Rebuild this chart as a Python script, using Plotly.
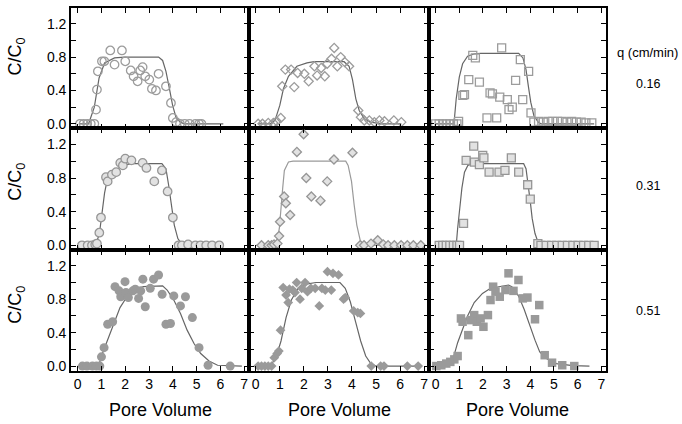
import plotly.graph_objects as go
from plotly.subplots import make_subplots

# ---------------- data ----------------
# Row 1 (q = 0.16 cm/min) - open markers
p11_x = [0.1, 0.25, 0.4, 0.55, 0.7, 0.77, 0.81, 0.85, 1.02, 1.12, 1.37, 1.55, 1.86, 2.0, 2.23, 2.35, 2.52, 2.63, 2.73,
         2.84, 3.01, 3.12, 3.29, 3.4, 3.71, 3.92, 4.0, 4.14, 4.3, 4.5, 4.7, 4.95, 5.1, 5.2]
p11_y = [0, 0, 0, 0, 0, 0.17, 0.41, 0.63, 0.75, 0.75, 0.88, 0.71, 0.88, 0.75, 0.64, 0.57, 0.51, 0.64, 0.68,
         0.57, 0.53, 0.42, 0.40, 0.60, 0.45, 0.25, 0.07, 0.02, 0, 0, 0, 0, 0, 0]
m11_x = [0.05, 0.46, 0.7, 0.9, 1.13, 1.55, 1.97, 3.4, 3.57, 3.71, 3.85, 3.99, 4.13, 4.31, 4.48, 6.12]
m11_y = [0, 0, 0.2, 0.55, 0.73, 0.79, 0.8, 0.8, 0.76, 0.63, 0.43, 0.22, 0.08, 0.02, 0, 0]

p12_x = [0.1, 0.28, 0.52, 0.73, 0.87, 1.04, 1.1, 1.23, 1.47, 1.6, 1.74, 2.02, 2.2, 2.44, 2.55, 2.72, 2.87, 2.97,
         3.15, 3.26, 3.39, 3.53, 3.7, 3.88, 4.26, 4.37, 4.51, 4.72, 4.93, 5.14, 5.35, 5.74, 6.05]
p12_y = [0, 0, 0.01, 0.01, 0.03, 0.07, 0.45, 0.65, 0.65, 0.44, 0.61, 0.60, 0.51, 0.69, 0.58, 0.67, 0.57, 0.72,
         0.78, 0.91, 0.69, 0.80, 0.74, 0.69, 0.16, 0.08, 0.04, 0.04, 0.02, 0.04, 0.03, 0.04, 0.02]
m12_x = [0.1, 0.6, 0.8, 1.0, 1.15, 1.36, 1.71, 2.13, 2.43, 3.67, 3.88, 4.02, 4.16, 4.3, 4.51, 4.79, 5.21, 6.05]
m12_y = [0, 0, 0.04, 0.22, 0.42, 0.57, 0.69, 0.73, 0.745, 0.745, 0.69, 0.53, 0.3, 0.16, 0.06, 0.02, 0, 0]

p13_x = [0.0, 0.15, 0.3, 0.45, 0.6, 0.75, 0.9, 0.97, 1.15, 1.22, 1.4, 1.57, 1.68, 1.85, 2.17, 2.3, 2.4, 2.58, 2.71,
         2.79, 3.03, 3.1, 3.24, 3.38, 3.58, 3.68, 3.93, 4.03, 4.15, 4.35, 4.55, 4.75, 4.95, 5.15, 5.35, 5.55,
         5.75, 5.95, 6.15, 6.35, 6.6]
p13_y = [0, 0, 0, 0, 0, 0, 0, 0.03, 0.34, 0.35, 0.53, 0.82, 0.79, 0.50, 0.07, 0.37, 0.36, 0.07, 0.32,
         0.91, 0.29, 0.17, 0.20, 0.52, 0.77, 0.29, 0.63, 0.13, 0.02, 0.03, 0.02, 0.03, 0.03, 0.03, 0.03, 0.02,
         0.03, 0.02, 0.02, 0.01, 0.01]
m13_x = [0.0, 0.75, 0.8, 0.87, 1.0, 1.14, 1.35, 1.65, 1.9, 3.51, 3.69, 3.82, 3.92, 4.02, 4.15, 4.33, 4.45, 6.7]
m13_y = [0, 0, 0.08, 0.3, 0.56, 0.72, 0.81, 0.84, 0.845, 0.845, 0.79, 0.65, 0.45, 0.26, 0.1, 0.02, 0, 0]

# Row 2 (q = 0.31 cm/min) - light filled markers
p21_x = [0.18, 0.42, 0.6, 0.74, 0.81, 0.91, 0.98, 1.19, 1.26, 1.44, 1.62, 1.79, 1.9, 2.0, 2.26, 2.73, 2.89, 3.22,
         3.54, 3.78, 4.0, 4.24, 4.38, 4.64, 4.95, 5.16, 5.4, 5.65, 5.95]
p21_y = [0, 0, 0, 0.01, 0.02, 0.15, 0.33, 0.81, 0.76, 0.84, 0.87, 0.98, 0.95, 1.03, 1.01, 0.98, 0.92, 0.76,
         0.89, 0.64, 0.33, 0, 0, 0.01, 0, 0, 0, 0, 0]
m21_x = [0.0, 0.74, 0.91, 1.02, 1.13, 1.23, 1.51, 1.86, 2.28, 3.54, 3.71, 3.82, 3.93, 4.06, 4.21, 4.38, 4.5, 6.1]
m21_y = [0, 0, 0.13, 0.36, 0.62, 0.76, 0.86, 0.95, 0.97, 0.97, 0.91, 0.72, 0.48, 0.24, 0.08, 0.01, 0, 0]

p22_x = [0.24, 0.52, 0.66, 0.76, 0.9, 0.97, 1.01, 1.18, 1.25, 1.43, 1.71, 1.99, 2.1, 2.31, 2.69, 2.97, 3.25, 4.02,
         4.34, 4.5, 4.79, 5.07, 5.3, 5.5, 5.76, 6.04, 6.3, 6.55, 6.86]
p22_y = [0, 0, 0, 0.01, 0.02, 0.11, 0.28, 0.58, 0.5, 0.36, 1.11, 1.32, 0.80, 0.58, 0.53, 0.76, 1.02, 1.10,
         0, 0, 0.02, 0.06, 0.01, 0, 0, 0, 0, 0, 0]
m22_x = [0.0, 0.85, 0.98, 1.05, 1.12, 1.19, 1.36, 1.55, 3.74, 3.84, 3.98, 4.09, 4.2, 4.34, 4.5, 6.9]
m22_y = [0, 0, 0.2, 0.4, 0.68, 0.89, 0.99, 1.0, 1.0, 0.95, 0.76, 0.48, 0.24, 0.06, 0, 0]

p23_x = [0.15, 0.3, 0.45, 0.6, 0.75, 0.9, 1.01, 1.18, 1.29, 1.61, 1.64, 1.85, 1.99, 2.04, 2.26, 2.68, 2.93, 3.2,
         3.51, 3.89, 4.0, 4.32, 4.45, 4.67, 4.9, 5.12, 5.35, 5.57, 5.8, 6.02, 6.25, 6.47, 6.7]
p23_y = [0, 0, 0, 0, 0, 0, 0, 0.26, 1.01, 1.18, 0.99, 0.96, 1.07, 1.04, 0.87, 0.87, 0.89, 1.04,
         0.87, 0.72, 0.55, 0.02, 0, 0, 0, 0, 0, 0, 0, 0, 0, 0, 0]
m23_x = [0.0, 0.87, 0.93, 1.01, 1.11, 1.22, 1.36, 1.57, 3.72, 3.82, 3.9, 4.0, 4.08, 4.2, 4.35, 4.45, 6.7]
m23_y = [0, 0, 0.2, 0.44, 0.68, 0.87, 0.95, 0.97, 0.97, 0.91, 0.75, 0.52, 0.32, 0.14, 0.02, 0, 0]

# Row 3 (q = 0.51 cm/min) - dark filled markers
p31_x = [0.2, 0.39, 0.62, 0.79, 0.93, 1.0, 1.11, 1.26, 1.47, 1.57, 1.74, 1.81, 1.99, 2.03, 2.13, 2.32, 2.42, 2.56,
         2.65, 2.74, 2.84, 3.05, 3.19, 3.4, 3.55, 3.71, 3.9, 4.04, 4.32, 4.53, 4.82, 5.1, 5.48, 6.41]
p31_y = [0, 0, 0, 0, 0, 0.11, 0.22, 0.5, 0.53, 0.95, 0.9, 0.83, 1.01, 0.88, 0.82, 0.9, 0.92, 0.81,
         0.9, 1.04, 0.71, 0.93, 1.04, 1.09, 0.86, 0.5, 0.51, 0.84, 0.72, 0.83, 0.58, 0.22, 0.01, 0]
m31_x = [0.0, 0.88, 1.0, 1.22, 1.5, 1.78, 2.05, 2.33, 2.76, 3.19, 3.57, 3.76, 4.04, 4.32, 4.6, 4.89, 5.17, 5.52,
         5.88, 6.9]
m31_y = [0, 0, 0.12, 0.28, 0.5, 0.7, 0.82, 0.9, 0.95, 0.96, 0.96, 0.91, 0.79, 0.63, 0.43, 0.27, 0.15, 0.06,
         0.01, 0]

p32_x = [0.1, 0.24, 0.38, 0.52, 0.66, 0.77, 0.89, 0.96, 1.03, 1.14, 1.26, 1.35, 1.4, 1.54, 1.63, 1.7, 1.84, 1.91,
         2.05, 2.15, 2.29, 2.47, 2.64, 2.75, 2.89, 2.98, 3.14, 3.21, 3.44, 3.65, 3.72, 4.07, 4.24, 4.35, 4.8, 5.19,
         5.33, 6.3, 6.75]
p32_y = [0, 0, 0, 0, 0, 0.1, 0.15, 0.18, 0.43, 0.94, 0.85, 0.76, 0.92, 0.91, 0.88, 1.0, 0.8, 0.93,
         1.0, 0.89, 0.93, 0.93, 0.72, 0.93, 0.91, 1.13, 0.91, 1.11, 1.09, 0.8, 0.82, 0.66, 0.64, 0.63, 0, 0,
         0, 0, 0]
m32_x = [0.0, 0.6, 0.84, 1.05, 1.26, 1.48, 1.76, 2.1, 2.5, 3.5, 3.72, 3.93, 4.15, 4.36, 4.57, 4.78, 5.0, 6.8]
m32_y = [0, 0, 0.1, 0.3, 0.58, 0.79, 0.93, 0.98, 1.0, 1.0, 0.93, 0.77, 0.53, 0.3, 0.12, 0.03, 0, 0]

p33_x = [0.03, 0.24, 0.45, 0.62, 0.79, 0.93, 1.07, 1.14, 1.38, 1.49, 1.63, 1.74, 1.9, 2.02, 2.21, 2.32, 2.43, 2.53,
         2.71, 2.95, 3.08, 3.29, 3.5, 3.68, 3.88, 4.2, 4.38, 4.61, 4.92, 5.35, 5.86]
p33_y = [0, 0.01, 0.03, 0.05, 0.08, 0.12, 0.57, 0.53, 0.37, 0.55, 0.61, 0.53, 0.57, 0.47, 0.61, 0.79, 0.95, 0.89,
         0.83, 0.91, 1.11, 0.9, 1.03, 0.81, 0.82, 0.56, 0.73, 0.13, 0.04, 0.01, 0]
m33_x = [0.0, 0.5, 0.73, 0.93, 1.14, 1.35, 1.63, 1.98, 2.32, 2.8, 3.08, 3.22, 3.5, 3.74, 3.96, 4.2, 4.4, 4.68,
         5.1, 5.8, 6.5]
m33_y = [0, 0.02, 0.08, 0.28, 0.44, 0.6, 0.76, 0.87, 0.93, 0.96, 0.97, 0.95, 0.84, 0.68, 0.49, 0.31, 0.17, 0.09,
         0.03, 0.005, 0]

flow_rates = ["0.16", "0.31", "0.51"]
x_ticks = [0, 1, 2, 3, 4, 5, 6, 7]
y_ticks = [0, 0.4, 0.8, 1.2]
y_ticktext = ["0.0", "0.4", "0.8", "1.2"]
x_title = "Pore Volume"
y_title = "C/C<sub>0</sub>"
q_title = "q (cm/min)"

points = [[(p11_x, p11_y), (p12_x, p12_y), (p13_x, p13_y)],
          [(p21_x, p21_y), (p22_x, p22_y), (p23_x, p23_y)],
          [(p31_x, p31_y), (p32_x, p32_y), (p33_x, p33_y)]]
models = [[(m11_x, m11_y), (m12_x, m12_y), (m13_x, m13_y)],
          [(m21_x, m21_y), (m22_x, m22_y), (m23_x, m23_y)],
          [(m31_x, m31_y), (m32_x, m32_y), (m33_x, m33_y)]]

# ---------------- styling ----------------
W, H = 682, 424
FONT = "Liberation Sans, Arial, sans-serif"
symbols = ["circle", "diamond", "square"]
col_px = [(71, 249), (249, 429), (429, 606)]
row_px = [(8, 129.3), (129.3, 251.7), (251.7, 373.3)]
sizes = {"circle": 8, "diamond": 6.5, "square": 7.5}

fig = make_subplots(rows=3, cols=3, horizontal_spacing=0, vertical_spacing=0)

for r in range(3):
    for c in range(3):
        mx, my = models[r][c]
        line_col = "#9a9a9a" if (r == 1 and c == 1) else "#666666"
        fig.add_trace(go.Scatter(x=mx, y=my, mode="lines", line=dict(color=line_col, width=1.2),
                                 showlegend=False, hoverinfo="skip"), row=r + 1, col=c + 1)
        px_, py_ = points[r][c]
        sym = symbols[c]
        sz = sizes[sym]
        if r == 0:
            mk = dict(symbol=sym + "-open", color="#9c9c9c", size=sz + 0.5, line=dict(width=1.3, color="#9c9c9c"))
        elif r == 1:
            mk = dict(symbol=sym, color="#e2e2e2", size=sz + 0.5, line=dict(width=1.3, color="#969696"))
        else:
            mk = dict(symbol=sym, color="#9a9a9a", size=sz + 1, line=dict(width=0))
        fig.add_trace(go.Scatter(x=px_, y=py_, mode="markers", marker=mk, showlegend=False,
                                 cliponaxis=False), row=r + 1, col=c + 1)

for r in range(3):
    for c in range(3):
        x0, x1 = col_px[c]
        t0, t1 = row_px[r]
        fig.update_xaxes(domain=[x0 / W, x1 / W], range=[-0.28, 7.2], tickvals=x_ticks,
                         ticktext=[str(v) for v in x_ticks], showticklabels=(r == 2),
                         ticks="inside", ticklen=5, tickwidth=1, tickcolor="black",
                         showline=True, linecolor="black", linewidth=1.6, mirror="ticks",
                         showgrid=False, zeroline=False,
                         tickfont=dict(family=FONT, size=14, color="black"),
                         row=r + 1, col=c + 1)
        fig.update_yaxes(domain=[1 - t1 / H, 1 - t0 / H], range=[-0.055, 1.39], tickvals=y_ticks,
                         ticktext=y_ticktext, showticklabels=(c == 0),
                         ticks="inside", ticklen=5, tickwidth=1, tickcolor="black",
                         minor=dict(tick0=0, dtick=0.2, ticks="inside", ticklen=5, tickwidth=1,
                                    tickcolor="black", showgrid=False),
                         showline=True, linecolor="black", linewidth=1.6, mirror="ticks",
                         showgrid=False, zeroline=False,
                         tickfont=dict(family=FONT, size=14, color="black"),
                         row=r + 1, col=c + 1)

ann = []
for c in range(3):
    x0, x1 = col_px[c]
    ann.append(dict(text=x_title, x=(x0 + x1) / 2 / W, y=1 - 413 / H, xref="paper", yref="paper",
                    showarrow=False, font=dict(family=FONT, size=18, color="black"),
                    xanchor="center", yanchor="middle"))
for r, yc in enumerate([57, 183, 307]):
    ann.append(dict(text=y_title, x=17 / W, y=1 - yc / H, xref="paper", yref="paper", textangle=-90,
                    showarrow=False, font=dict(family=FONT, size=18, color="black"),
                    xanchor="center", yanchor="middle"))
ann.append(dict(text=q_title, x=647 / W, y=1 - 53 / H, xref="paper", yref="paper", showarrow=False,
                font=dict(family=FONT, size=13, color="black"), xanchor="center", yanchor="middle"))
for yc, q in zip([85, 187, 313], flow_rates):
    ann.append(dict(text=q, x=648 / W, y=1 - yc / H, xref="paper", yref="paper", showarrow=False,
                    font=dict(family=FONT, size=12.5, color="black"), xanchor="center", yanchor="middle"))

fig.update_layout(width=W, height=H, margin=dict(l=0, r=0, t=0, b=0), paper_bgcolor="white",
                  plot_bgcolor="white", annotations=ann, font=dict(family=FONT))

fig.write_html("out.html")
